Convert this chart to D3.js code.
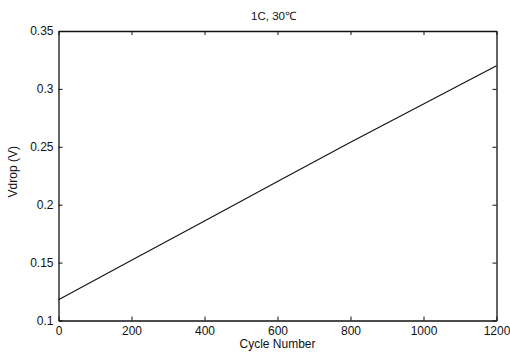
<!DOCTYPE html>
<html><head><meta charset="utf-8">
<script src="https://cdn.jsdelivr.net/npm/d3@7"></script>
<style>
html,body{margin:0;padding:0;background:#fff;}
svg text{font-family:"Liberation Sans",Arial,sans-serif;fill:#111;}
</style></head>
<body>
<svg id="chart" width="510" height="352"></svg>
<script>
const cycles = [0, 200, 400, 600, 800, 1000, 1200];
const vdrop = [0.118, 0.152, 0.186, 0.220, 0.254, 0.287, 0.320];
const xTicks = [0, 200, 400, 600, 800, 1000, 1200];
const yTicks = [0.1, 0.15, 0.2, 0.25, 0.3, 0.35];
const titleText = "1C, 30\u2103";
const xLabel = "Cycle Number";
const yLabel = "Vdrop (V)";

const svg = d3.select("#chart");
const m = {left: 58.5, right: 496.5, top: 31, bottom: 320.5};
const x = d3.scaleLinear().domain([0, 1200]).range([m.left, m.right]);
const y = d3.scaleLinear().domain([0.1, 0.35]).range([m.bottom, m.top]);

const fmtY = d => String(+d.toFixed(2));
const fmtX = d => String(d);
const tickLen = 4;
const fs = 12;

// bottom axis
const gB = svg.append("g").attr("transform", `translate(0,${m.bottom})`)
  .call(d3.axisBottom(x).tickValues(xTicks).tickFormat(fmtX).tickSizeInner(-tickLen).tickSizeOuter(0).tickPadding(6));
// top axis
const gT = svg.append("g").attr("transform", `translate(0,${m.top})`)
  .call(d3.axisTop(x).tickValues(xTicks).tickSizeInner(-tickLen).tickSizeOuter(0).tickFormat(""));
// left axis
const gL = svg.append("g").attr("transform", `translate(${m.left},0)`)
  .call(d3.axisLeft(y).tickValues(yTicks).tickSizeInner(-tickLen).tickSizeOuter(0).tickPadding(5).tickFormat(fmtY));
// right axis
const gR = svg.append("g").attr("transform", `translate(${m.right},0)`)
  .call(d3.axisRight(y).tickValues(yTicks).tickSizeInner(-tickLen).tickSizeOuter(0).tickFormat(""));

[gB, gT, gL, gR].forEach(g => {
  g.select(".domain").attr("stroke", "#111").attr("stroke-width", 1.3);
  g.selectAll(".tick line").attr("stroke", "#111").attr("stroke-width", 1);
  g.selectAll(".tick text").attr("font-size", fs).attr("font-family", "Liberation Sans, Arial, sans-serif").attr("fill", "#111");
});

// data line
const line = d3.line().x((d, i) => x(cycles[i])).y(d => y(d));
svg.append("path").datum(vdrop).attr("d", line)
  .attr("fill", "none").attr("stroke", "#111").attr("stroke-width", 1.1);

// title
svg.append("text").attr("x", (m.left + m.right) / 2 - 4).attr("y", 20)
  .attr("text-anchor", "middle").attr("font-size", 11.5).text(titleText);
// x label
svg.append("text").attr("x", (m.left + m.right) / 2).attr("y", 348)
  .attr("text-anchor", "middle").attr("font-size", fs).text(xLabel);
// y label
svg.append("text").attr("transform", `translate(17,${(m.top + m.bottom) / 2 - 4}) rotate(-90)`)
  .attr("text-anchor", "middle").attr("font-size", fs).text(yLabel);
</script>
</body></html>
